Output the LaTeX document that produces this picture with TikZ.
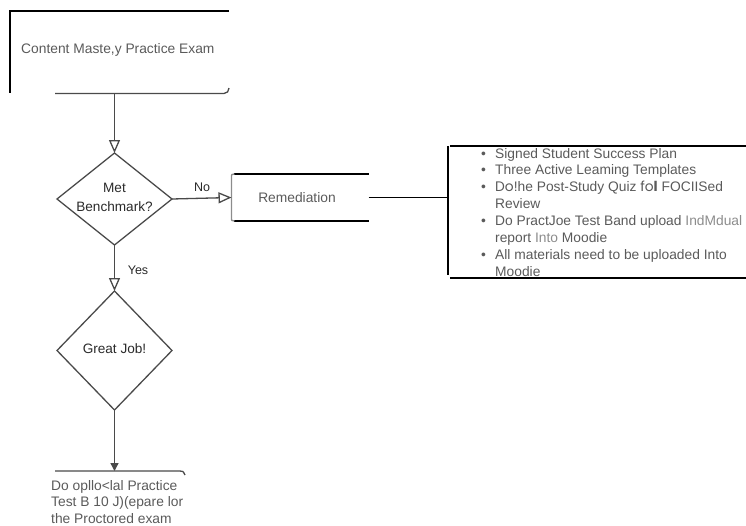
\documentclass[tikz,border=0pt]{standalone}
\usepackage{fontspec}
\setmainfont{Liberation Sans}
\newfontfamily\geofont{Poppins}
\usetikzlibrary{shapes.geometric,arrows.meta,calc}
\definecolor{txtgray}{HTML}{5A5A5A}
\definecolor{lblgray}{HTML}{2A2A2A}
\definecolor{linegray}{HTML}{4A4A4A}
\definecolor{palegray}{HTML}{8C8C8C}
\begin{document}
\begin{tikzpicture}[x=1pt,y=-1pt,
  dia/.style={draw=linegray, line width=1.3pt, shape=diamond, inner sep=0pt, outer sep=0pt},
  lbl/.style={text=lblgray, font=\fontsize{13.6}{19}\selectfont, align=center, inner sep=0pt},
  small/.style={text=lblgray, font=\fontsize{12.5}{14}\selectfont, inner sep=0pt},
  body/.style={text=txtgray, font=\fontsize{13.8}{16.5}\selectfont, inner sep=0pt},
  frame/.style={draw=black, line width=1.5pt},
  thinframe/.style={draw=linegray, line width=1.3pt},
  openarrow/.style={-{Triangle[open,length=13pt,width=11pt]}, draw=linegray, line width=1.3pt},
  fillarrow/.style={-{Triangle[length=8pt,width=8pt]}, draw=linegray, line width=1.3pt, fill=black}
]
\useasboundingbox (0,0) rectangle (746,525);

% top box
\coordinate (tbTL) at (10,11);
\coordinate (tbTR) at (229,11);
\coordinate (tbBL) at (10,93);
\coordinate (tbB1) at (55,93.5);
\coordinate (tbB2) at (224,93.5);
\coordinate (tbB3) at (229,88);
\coordinate (tbout) at (114.5,93.5);
\draw[frame] (tbTR) -- (tbTL) -- (tbBL);
\draw[thinframe] (tbB1) -- (tbB2) .. controls (227,93.5) and (229,91) .. (tbB3);
\node[body, anchor=west] (tbtext) at (21,50) {Content Maste,y Practice Exam};

% decision 1
\node[dia, minimum width=115pt, minimum height=92pt] (d1) at (114.5,199) {};
\node[lbl] (d1text) at (114.5,197) {Met\\Benchmark?};
\draw[openarrow] (tbout) -- (d1.north);

% remediation
\node[minimum width=137pt, minimum height=47pt, inner sep=0pt, outer sep=0pt] (rem) at (300,197.5) {};
\draw[frame] ($(rem.north west)+(2,0)$) -- (rem.north east);
\draw[frame] ($(rem.south west)+(2,0)$) -- (rem.south east);
\draw[draw=palegray, line width=1.3pt] ($(rem.north west)+(3,0)$) .. controls (rem.north west) .. ($(rem.north west)+(0,4)$)
  -- ($(rem.south west)+(0,-4)$) .. controls (rem.south west) .. ($(rem.south west)+(3,0)$);
\node[body] (remtext) at (297,198) {Remediation};
\draw[openarrow] (d1.east) -- (rem.west);
\node[small] (nolbl) at (202,187) {No};

% list box
\node[minimum width=298pt, minimum height=132pt, inner sep=0pt, outer sep=0pt] (lst) at (597,212) {};
\draw[frame] (lst.north west) -- ($(lst.south west)+(0,-3)$);
\draw[draw=black, line width=2pt] ($(lst.north west)+(2,0)$) -- (lst.north east);
\draw[draw=black, line width=2pt] ($(lst.south west)+(2,0)$) -- (lst.south east);
\draw[frame] (rem.east) -- (rem.east -| lst.west);

\node[body, anchor=base west] (l1) at (481,158) {\makebox[14pt][l]{\textbullet}Signed Student Success Plan};
\node[body, anchor=base west] (l2) at (481,174.9) {\makebox[14pt][l]{\textbullet}Three Active Leaming Templates};
\node[body, anchor=base west] (l3) at (481,191.8) {\makebox[14pt][l]{\textbullet}{\geofont Do}!he Post-Study Quiz {\geofont fo\textbf{l}} FOCIISed};
\node[body, anchor=base west] (l4) at (495,208.7) {Review};
\node[body, anchor=base west] (l5) at (481,225.6) {\makebox[14pt][l]{\textbullet}Do PractJoe Test Band upload {\color{palegray}IndMdual}};
\node[body, anchor=base west] (l6) at (495,242.5) {report {\color{palegray}Into} Moodie};
\node[body, anchor=base west] (l7) at (481,259.4) {\makebox[14pt][l]{\textbullet}All materials need to be uploaded Into};
\node[body, anchor=base west] (l8) at (495,276.3) {Moodie};

% decision 2
\node[dia, minimum width=115pt, minimum height=119pt] (d2) at (114.5,350.5) {};
\node[lbl] (d2text) at (114.5,349) {Great Job!};
\draw[openarrow] (d1.south) -- (d2.north);
\node[small] (yeslbl) at (138,270) {Yes};

% bottom box
\coordinate (bb1) at (55,471);
\coordinate (bb2) at (180,471);
\coordinate (bb3) at (185,475);
\coordinate (bbin) at (114.5,471);
\draw[thinframe] (bb1) -- (bb2) .. controls (183,471) .. (bb3);
\draw[fillarrow] (d2.south) -- (bbin);
\node[body, anchor=north west, align=left] (bbtext) at (51,480) {Do opllo<lal Practice\\Test B 10 J)(epare lor\\the Proctored exam};
\end{tikzpicture}
\end{document}
